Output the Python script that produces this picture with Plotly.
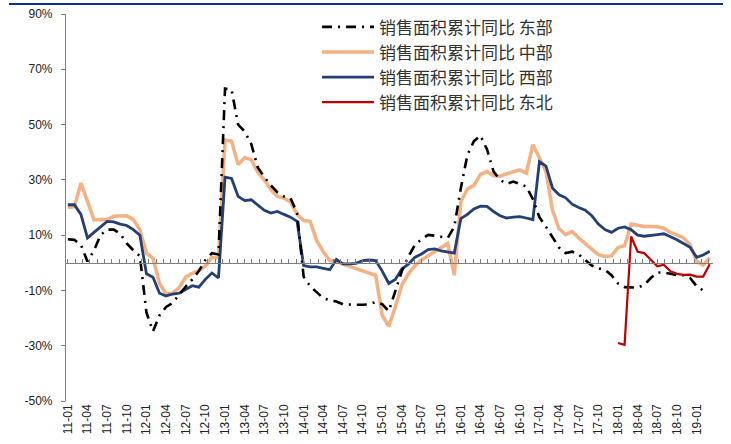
import pandas as pd
import plotly.graph_objects as go

# Monthly observations, 2011-01 .. 2019-03
months = pd.date_range("2011-01-01", periods=99, freq="MS").strftime("%Y-%m").tolist()

# Cumulative YoY growth of commodity housing sales area by region (%)
east = [8.5, 8.3, 6.5, 0.5, 4.5, 10, 12, 12, 10.5, 7, 4.5, 2.5,
        -18, -24.8, -19, -16, -14.5, -11.5, -8.6, -6, -3, 1, 3.5, 3,
        63, 62.6, 50, 47.5, 43, 34.5, 31, 28, 25.5, 24, 23.4, 18,
        -5, -8.5, -10.5, -12.8, -13.5, -14, -15, -15.2, -15.2, -15.2, -15, -14.2,
        -15, -17.5, -10, -3, 2.3, 6.5, 8.5, 10.1, 9.8, 9.5, 9, 13,
        27, 39, 44, 46, 41, 33, 30, 28.5, 29.4, 28.5, 27.6, 23,
        16.5, 13, 9, 5.5, 3.5, 4, 3, 1, -1, -2, -2.5, -4.5,
        -7.5, -8.8, -9, -9, -8, -5.5, -3.5, -3.5, -4, -4.5, -4.5, -5.5,
        -8.5, -10, None]

central = [20, 20.3, 28.8, 22.5, 15.5, 15.7, 15.6, 16.8, 17, 17, 15.6, 12,
           3.5, 1.7, -7.5, -11.3, -11, -9, -5.2, -3.8, -2.8, -1.2, 2, 1.7,
           44.5, 44, 35.5, 38, 37.3, 32.8, 30, 26.5, 24, 23.4, 22, 17.5,
           15.3, 15, 8, 4, 0.8, 0.5, -0.5, -1.3, -2, -3, -3.7, -4.5,
           -19, -23, -16, -8, -4, -1, 1, 2.5, 4, 5.5, 7, -4.5,
           22, 26.7, 28, 32, 33, 31.5, 31.3, 32.2, 33, 33.6, 32.4, 42.7,
           38, 33, 19, 12.3, 10.2, 11.3, 9, 7, 5, 2.9, 2.3, 2.5,
           5.5, 6.2, 14, 13.5, 13.1, 13.1, 13, 12.5, 11, 10.1, 9, 6.5,
           0.5, -0.8, 1.8]

west = [21, 21, 17.5, 9, 11, 13, 15, 14.8, 14, 13.5, 12, 10,
        -4, -5.2, -11, -12, -11.3, -11, -9.8, -8.3, -8.8, -6, -3.7, -5.5,
        31, 30.5, 24, 22.5, 22.8, 21, 19, 18, 18.6, 17.5, 16.5, 15,
        -1, -1.5, -1.5, -2, -2.5, 1.2, -0.4, -0.4, -0.2, 0.8, 1, 0.8,
        -3, -7.5, -6, -2.2, -0.5, 2, 3.2, 4.8, 5, 4.3, 3.8, 3.5,
        16, 17.5, 19.5, 20.5, 20.4, 18.5, 17, 16.2, 16.5, 16.7, 16.2, 15.6,
        36.6, 35, 27, 24.6, 23.5, 21.2, 20, 19, 17, 14, 12, 11,
        12.5, 13, 12, 10, 9.6, 10, 10.2, 10.5, 9.5, 8.3, 7, 5.6,
        2, 2.8, 4.2]

northeast = [None] * 84 + [-29, -29.7, 9.5, 4, 3.5, 1, -1.3, -0.7, -3.1, -4, -4.4, -4.3,
                           -5, -5, -0.5]

names = ["销售面积累计同比 东部", "销售面积累计同比 中部",
         "销售面积累计同比 西部", "销售面积累计同比 东北"]

y_ticks = [-50, -30, -10, 10, 30, 50, 70, 90]
y_labels = [f"{v}%" for v in y_ticks]
x_ticks = months[::3]
x_labels = [m[2:] for m in x_ticks]

TXT = "#222222"
GRAY = "#7F7F7F"
fig = go.Figure()

# draw order: orange, blue, black, red (legend order set by legendrank)
fig.add_trace(go.Scatter(x=months, y=central, name=names[1], mode="lines",
                         line=dict(color="#F4B183", width=3.5), legendrank=2))
fig.add_trace(go.Scatter(x=months, y=west, name=names[2], mode="lines",
                         line=dict(color="#233F73", width=2.8), legendrank=3))
fig.add_trace(go.Scatter(x=months, y=east, name=names[0], mode="lines",
                         line=dict(color="#000000", width=2.6, dash="10px,6px,2px,6px"),
                         legendrank=1))
fig.add_trace(go.Scatter(x=months, y=northeast, name=names[3], mode="lines",
                         line=dict(color="#C00000", width=2.2), legendrank=4))
# empty trace that activates the baseline axis
fig.add_trace(go.Scatter(x=[None], y=[None], xaxis="x2", showlegend=False,
                         hoverinfo="skip"))

fig.update_layout(
    width=731, height=444,
    margin=dict(l=66, r=18, t=14, b=43, autoexpand=False),
    paper_bgcolor="white", plot_bgcolor="white",
    font=dict(family="Liberation Sans, Arial, sans-serif", size=12, color=TXT),
    showlegend=True,
    legend=dict(
        x=0.388, y=1.012, xanchor="left", yanchor="top",
        bgcolor="rgba(0,0,0,0)", borderwidth=0,
        itemwidth=52, tracegroupgap=0,
        font=dict(family="Noto Sans CJK SC", size=17, color="#333333"),
    ),
    xaxis=dict(
        type="category", range=[-0.28, 98.5], automargin=False,
        tickmode="array", tickvals=x_ticks, ticktext=x_labels,
        tickangle=-90, ticks="", showline=False, showgrid=False, zeroline=False,
        tickfont=dict(size=12, color=TXT),
    ),
    # baseline at 0% with small upward tick marks
    xaxis2=dict(
        overlaying="x", anchor="free", position=50 / 140, side="bottom",
        range=[-0.23, 87.56], tick0=0, dtick=1, automargin=False,
        ticks="inside", ticklen=4, tickwidth=1, tickcolor=GRAY,
        showline=True, linecolor=GRAY, linewidth=1.2,
        showticklabels=False, showgrid=False, zeroline=False,
    ),
    yaxis=dict(
        range=[-50, 90], tickmode="array", tickvals=y_ticks, ticktext=y_labels,
        automargin=False,
        ticks="outside", ticklen=4, tickcolor=GRAY,
        showline=True, linecolor=GRAY, linewidth=1.2,
        showgrid=False, zeroline=False, ticklabelstandoff=6,
        tickfont=dict(size=12, color=TXT),
    ),
    shapes=[dict(type="line", xref="paper", yref="paper",
                 x0=(9 - 66) / 647, x1=(723 - 66) / 647,
                 y0=1 + 10 / 387, y1=1 + 10 / 387,
                 line=dict(color="#0A2F8C", width=2))],
)

fig.write_html("out.html")
